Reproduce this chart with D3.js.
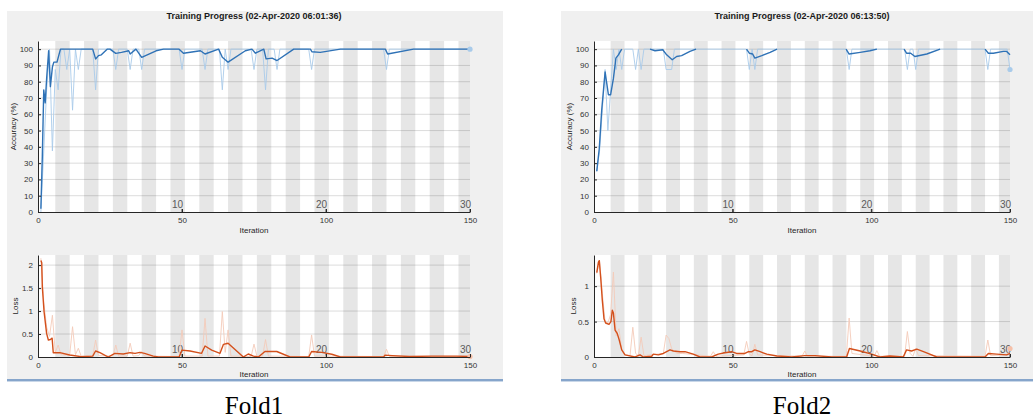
<!DOCTYPE html>
<html>
<head>
<meta charset="utf-8">
<script src="https://cdn.jsdelivr.net/npm/d3@7"></script>
<style>
body { margin: 0; background: #fff; }
svg text { font-family: "Liberation Sans", Arial, sans-serif; }
svg text.fold { font-family: "Liberation Serif", "Times New Roman", serif; }
</style>
</head>
<body>
<div id="chart"></div>
<script>
// ---- data ----
var iterTicks = [0, 50, 100, 150];
var accTicks = [0, 10, 20, 30, 40, 50, 60, 70, 80, 90, 100];
var lossTicks1 = [0, 0.5, 1, 1.5, 2];
var lossTicks2 = [0, 0.5, 1];
var epochs = d3.range(1, 31);
var epochLabels = [10, 20, 30];
var itersPerEpoch = 5;
var foldNames = ["Fold1", "Fold2"];
var titles = ["Training Progress (02-Apr-2020 06:01:36)", "Training Progress (02-Apr-2020 06:13:50)"];

// fold 1, [iteration, value]
var accRaw1 = [[1,0],[2,37.5],[3,75],[4,100],[5,37.5],[6,87.5],[7,75],[8,100],[9,100],[10,87.5],[11,100],[12,62.5],[13,100],
  [14,87.5],[15,100],[19,100],[20,75],[21,100],[26,100],[27,87.5],[28,100],[31,100],[32,87.5],[33,100],[35,100],[36,87.5],
  [37,100],[49,100],[50,87.5],[51,100],[57,100],[58,87.5],[59,100],[63,100],[64,75],[65,100],[66,87.5],[67,100],[74,100],
  [75,87.5],[76,100],[78,100],[79,75],[80,100],[82,100],[83,87.5],[84,100],[94,100],[95,87.5],[96,100],[120,100],[121,87.5],
  [122,100],[150,100]];
var accSmooth1 = [[1,2],[1.5,34],[2,75],[2.5,67],[3,82],[3.7,99],[4.3,77],[5,89],[5.5,92],[6.6,92],[7.8,100],[19,100],[20,94],
  [21,96],[22,96.5],[24,100],[25,100],[27,97.4],[29,98],[31.5,99],[32,97],[34,100],[36,95],[38.5,97],[41,99],[43.6,100],
  [49,100],[50.5,97.5],[56.4,99],[58,97],[62.7,100],[64,95],[66,92],[72,99],[74.3,100],[75.5,97.5],[78.4,100],[79.2,94],
  [81.3,94.5],[83,93],[88.8,100],[94.6,100],[95.1,98.4],[98,98],[105,100],[120.6,100],[121.4,97],[130.4,100],[150,100]];
var lossRaw1 = [[1,2.15],[2,1.2],[3,0.65],[4,0.45],[5,0.91],[6,0.1],[7,0.26],[8,0.05],[11,0.04],[12,0.66],[13,0.05],[14,0.19],
  [15,0.02],[19,0.02],[20,0.37],[21,0.03],[26,0.02],[27,0.26],[28,0.02],[31,0.02],[32,0.3],[33,0.02],[35,0.03],[36,0.12],
  [37,0.02],[49,0.01],[50,0.59],[51,0.02],[57,0.02],[58,0.84],[59,0.02],[63,0.02],[64,0.99],[65,0.1],[66,0.59],[67,0.02],
  [74,0.01],[75,0.28],[76,0.02],[78,0.02],[79,0.38],[80,0.02],[94,0.01],[95,0.48],[96,0.02],[120,0.01],[121,0.17],[122,0.01],
  [150,0.01]];
var lossSmooth1 = [[1,2.1],[1.3,2.05],[1.5,1.53],[2.1,0.99],[3,0.51],[3.6,0.37],[4.3,0.38],[4.9,0.41],[5.3,0.094],[7.6,0.094],
  [11,0.043],[15,0.007],[19,0.02],[20,0.13],[21.5,0.094],[24.4,0],[26.7,0.08],[29.6,0.065],[32,0.094],[33.7,0.08],[35.4,0.1],
  [37,0.08],[40,0.02],[41.8,0],[49,0],[50,0.15],[52.8,0.13],[56.8,0.08],[58,0.24],[60.3,0.15],[63.2,0.08],[64.4,0.275],
  [66,0.3],[71.3,0],[73,0.065],[74.8,0.02],[76.5,0],[78.8,0.12],[82.9,0.12],[87.5,0],[94,0],[95,0.12],[98.5,0.1],[102,0.06],
  [105,0],[120,0],[120.5,0.04],[123,0.03],[129,0.01],[136.7,0.02],[145.4,0.02],[150,0.01]];

// fold 2
var accRaw2 = [[1,25],[2,37.5],[3,62.5],[4,87.5],[5,50],[6,75],[7,100],[8,87.5],[9,100],[10,87.5],[11,100],[14,100],[15,87.5],
  [16,100],[17,87.5],[18,100],[25,100],[26,87.5],[28,87.5],[29,100],[55,100],[56,87.5],[57,100],[58,87.5],[59,100],[91,100],
  [92,87.5],[93,100],[112,100],[113,87.5],[114,100],[115,100],[116,87.5],[117,100],[141,100],[142,87.5],[143,100],[149,100],
  [150,87.5]];
var accSmoothRuns2 = [
  [[1,25],[1.9,39],[2.8,63],[4,86],[4.6,79],[5.2,72],[6,72],[7,82],[7.9,94.5],[8.8,96.5],[10,100]],
  [[20.2,100],[22,99],[24.8,99.6],[26.2,96.5],[28.2,93.5],[29.8,95.5],[31.6,96],[34.6,98.6],[36.8,100]],
  [[55,100],[56,97.5],[57.2,97],[58,94.5],[60.5,96],[63.5,98],[66,100]],
  [[90.9,100],[92,97],[96,98],[99.5,99],[102,100]],
  [[111.8,100],[112.7,97.5],[114.2,97.5],[115.7,95.5],[120,97],[124.8,100]],
  [[141,100],[142.2,97.5],[144,97.5],[147.6,98.6],[148.8,98.6],[150,96.5]]
];
var lossRaw2 = [[1,1.18],[2,1.36],[3,0.9],[4,0.5],[5,0.48],[6,0.6],[7,1.2],[8,0.3],[9,0.4],[10,0.1],[11,0.03],[13,0.02],
  [14,0.42],[15,0.05],[16,0.02],[17,0.28],[18,0.02],[25,0.05],[26,0.31],[27,0.26],[28,0.12],[29,0.08],[30,0.05],[32,0.05],
  [42,0.01],[43,0.075],[44,0.01],[54,0.03],[55,0.22],[56,0.04],[57,0.02],[58,0.18],[59,0.03],[75,0.01],[76,0.085],[77,0.01],
  [91,0.01],[92,0.55],[93,0.05],[101,0.01],[102,0.09],[103,0.01],[112,0.01],[113,0.36],[114,0.05],[115,0.01],[116,0.12],
  [117,0.02],[141,0.01],[142,0.24],[143,0.02],[149,0.03],[150,0.12]];
var lossSmooth2 = [[1,1.19],[1.6,1.34],[1.9,1.36],[2.4,1.13],[3,0.8],[3.6,0.54],[4.2,0.48],[5.4,0.46],[6.1,0.5],[6.6,0.66],
  [7,0.62],[7.6,0.38],[8.4,0.33],[9.1,0.24],[10,0.1],[11.2,0.03],[14.8,0],[16.6,0.03],[17.8,0],[20.8,0.01],[21.4,0.04],
  [23.2,0.03],[25,0.05],[27.4,0.1],[28.6,0.085],[31,0.075],[32.8,0.075],[35.8,0.04],[38.2,0],[42.4,0],[44.8,0.04],[47.2,0.06],
  [49.6,0.075],[51.4,0.05],[54.4,0.05],[55.7,0.075],[56.9,0.075],[58,0.1],[59.9,0.075],[62.3,0.04],[65.9,0.015],[71.3,0],
  [76,0.02],[79.7,0.02],[85.7,0],[91.1,0],[92.1,0.12],[96,0.085],[100.1,0.04],[103.1,0],[106.7,0.015],[111.5,0],[112.7,0.1],
  [114.5,0.085],[116.4,0.11],[118.8,0.075],[123.6,0],[130.8,0],[141,0],[142.2,0.05],[145.2,0.04],[148.8,0.03],[150,0.05]];

// ---- drawing ----
var W = 1033, H = 418;
var svg = d3.select("#chart").append("svg").attr("width", W).attr("height", H);

var panelBoxes = [{x: 7, w: 496, cx: 254, px0: 38, px1: 470, ylab: 16, lossLab: 18},
                  {x: 561, w: 472, cx: 802, px0: 594, px1: 1010, ylab: 572, lossLab: 576}];

var line = function (x, y) {
  return d3.line().x(function (d) { return x(d[0]); }).y(function (d) { return y(d[1]); });
};

var clipId = 0;

function drawPlot(p) {
  var x = d3.scaleLinear().domain([0, 150]).range([p.x0, p.x1]);
  var y = d3.scaleLinear().domain([0, p.yMax]).range([p.yBot, p.yTop]);
  var g = svg.append("g");

  g.append("rect").attr("x", p.x0).attr("y", p.yTop)
    .attr("width", p.x1 - p.x0).attr("height", p.yBot - p.yTop).attr("fill", "#fff");

  g.selectAll("rect.band").data(epochs.filter(function (e) { return e % 2 === 0; }))
    .enter().append("rect").attr("class", "band")
    .attr("x", function (e) { return x((e - 1) * itersPerEpoch + 1); })
    .attr("width", function (e) {
      return x(Math.min(e * itersPerEpoch + 1, 150)) - x((e - 1) * itersPerEpoch + 1);
    })
    .attr("y", p.yTop).attr("height", p.yBot - p.yTop).attr("fill", "#e6e6e6");

  g.selectAll("line.grid").data(p.ticks.filter(function (t) { return t > 0; }))
    .enter().append("line").attr("class", "grid")
    .attr("x1", p.x0).attr("x2", p.x1)
    .attr("y1", function (t) { return y(t); }).attr("y2", function (t) { return y(t); })
    .attr("stroke", "rgba(0,0,0,0.14)").attr("stroke-width", 1);

  // epoch numbers along the bottom
  g.selectAll("text.ep").data(epochLabels).enter().append("text")
    .attr("x", function (e) { return x(e * itersPerEpoch) + 1; })
    .attr("y", p.yBot - 4).attr("text-anchor", "end")
    .attr("font-size", 10).attr("fill", "#5a5a5a").text(function (e) { return e; });
  g.selectAll("line.ept").data(epochLabels).enter().append("line")
    .attr("x1", function (e) { return x(e * itersPerEpoch); })
    .attr("x2", function (e) { return x(e * itersPerEpoch); })
    .attr("y1", p.yBot).attr("y2", p.yBot - 3).attr("stroke", "#444");

  var id = "clip" + (clipId++);
  svg.append("clipPath").attr("id", id).append("rect")
    .attr("x", p.x0).attr("y", p.yTop - 2).attr("width", p.x1 - p.x0 + 1).attr("height", p.yBot - p.yTop + 2);
  var lines = g.append("g").attr("clip-path", "url(#" + id + ")");

  lines.append("path").datum(p.raw).attr("d", line(x, y))
    .attr("fill", "none").attr("stroke", p.rawColor).attr("stroke-width", 0.9);
  p.smoothRuns.forEach(function (run) {
    lines.append("path").datum(run).attr("d", line(x, y))
      .attr("fill", "none").attr("stroke", p.smoothColor).attr("stroke-width", 1.4)
      .attr("stroke-linejoin", "round");
  });
  var last = p.raw[p.raw.length - 1];
  g.append("circle").attr("cx", x(last[0])).attr("cy", y(last[1])).attr("r", 2.6)
    .attr("fill", p.markColor);

  var ax = g.append("g").attr("transform", "translate(0," + p.yBot + ")")
    .call(d3.axisBottom(x).tickValues(iterTicks).tickSizeInner(-3).tickSizeOuter(0).tickPadding(5));
  var ay = g.append("g").attr("transform", "translate(" + p.x0 + ",0)")
    .call(d3.axisLeft(y).tickValues(p.ticks).tickFormat(d3.format("~g"))
      .tickSizeInner(-3).tickSizeOuter(0).tickPadding(5));
  [ax, ay].forEach(function (a) {
    a.attr("font-size", 8);
    a.selectAll("text").attr("fill", "#333");
    a.selectAll("line, path").attr("stroke", "#262626");
  });

  g.append("text").attr("x", (p.x0 + p.x1) / 2).attr("y", p.xLabY)
    .attr("text-anchor", "middle").attr("font-size", 8).attr("fill", "#262626").text("Iteration");
  g.append("text").attr("transform", "translate(" + p.yLabX + "," + (p.yTop + p.yBot) / 2 + ") rotate(-90)")
    .attr("text-anchor", "middle").attr("font-size", 8).attr("fill", "#262626").text(p.yLabel);
}

var folds = [
  {accRaw: accRaw1, accRuns: [accSmooth1], lossRaw: lossRaw1, lossRuns: [lossSmooth1], lossMax: 2.22, lossTicks: lossTicks1},
  {accRaw: accRaw2, accRuns: accSmoothRuns2, lossRaw: lossRaw2, lossRuns: [lossSmooth2], lossMax: 1.44, lossTicks: lossTicks2}
];

folds.forEach(function (f, i) {
  var b = panelBoxes[i];
  svg.append("rect").attr("x", b.x).attr("y", 11).attr("width", b.w).attr("height", 369).attr("fill", "#f0f0f0");
  svg.append("rect").attr("x", b.x).attr("y", 379).attr("width", b.w).attr("height", 2).attr("fill", "#86a5cb");
  svg.append("rect").attr("x", b.x).attr("y", 381).attr("width", b.w).attr("height", 1).attr("fill", "#c9d7e8");
  svg.append("text").attr("x", b.cx).attr("y", 18.5).attr("text-anchor", "middle")
    .attr("font-size", 9).attr("font-weight", "bold").attr("fill", "#1a1a1a").text(titles[i]);

  drawPlot({x0: b.px0, x1: b.px1, yTop: 41, yBot: 212, yMax: 105, ticks: accTicks,
    raw: f.accRaw, smoothRuns: f.accRuns, rawColor: "#a9cbea", smoothColor: "#2f72b6", markColor: "#a9cbea",
    xLabY: 232.5, yLabX: b.ylab, yLabel: "Accuracy (%)"});
  drawPlot({x0: b.px0, x1: b.px1, yTop: 255, yBot: 357, yMax: f.lossMax, ticks: f.lossTicks,
    raw: f.lossRaw, smoothRuns: f.lossRuns, rawColor: "#f4cbb9", smoothColor: "#d4501c", markColor: "#f6c0a8",
    xLabY: 376.5, yLabX: b.lossLab, yLabel: "Loss"});

  svg.append("text").attr("class", "fold").attr("x", b.cx).attr("y", 414).attr("text-anchor", "middle")
    .attr("font-size", 25).attr("fill", "#000").text(foldNames[i]);
});
</script>
</body>
</html>
